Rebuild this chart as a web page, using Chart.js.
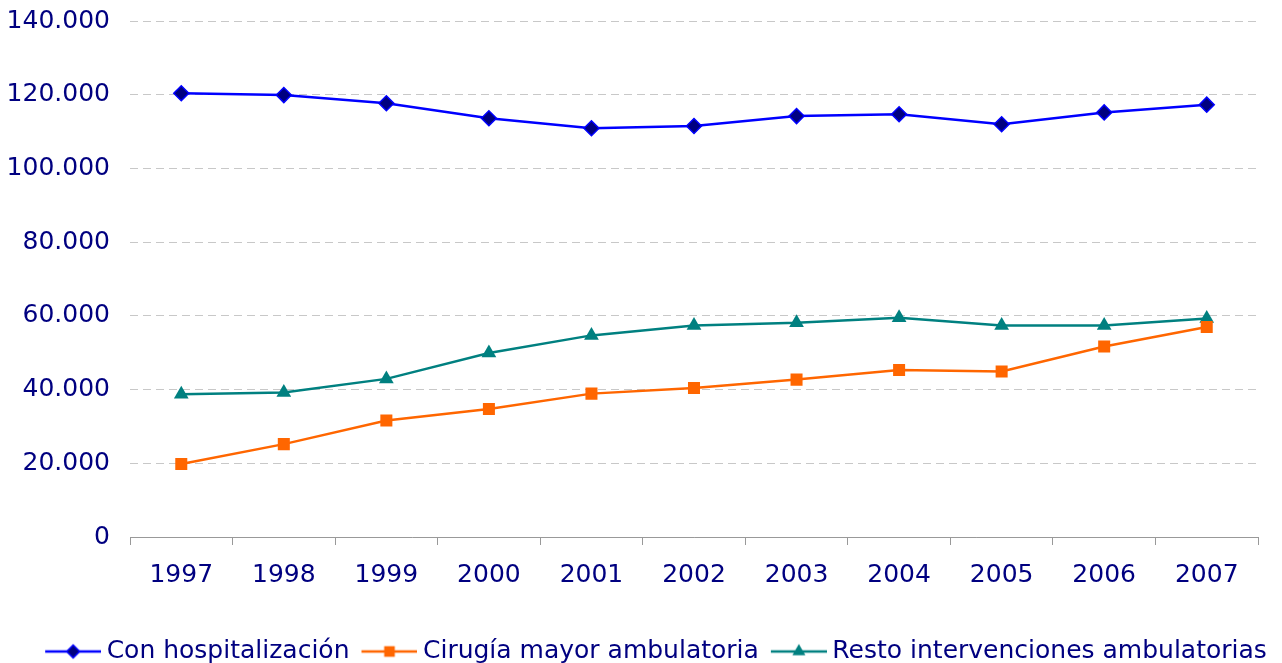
<!DOCTYPE html>
<html>
<head>
<meta charset="utf-8">
<script src="https://cdn.jsdelivr.net/npm/chart.js@4/dist/chart.umd.min.js"></script>
<style>
  html, body { margin: 0; padding: 0; background: #ffffff; }
  #wrap { width: 1282px; height: 663px; position: relative; }
</style>
</head>
<body>
<div id="wrap"><canvas id="c" width="1282" height="663"></canvas></div>
<script>
const years = ['1997','1998','1999','2000','2001','2002','2003','2004','2005','2006','2007'];
const conHospitalizacion = [120400, 119900, 117700, 113600, 110900, 111500, 114200, 114700, 112000, 115200, 117300];
const cirugiaMayorAmbulatoria = [19800, 25200, 31600, 34700, 38900, 40400, 42700, 45300, 44900, 51700, 57000];
const restoIntervenciones = [38700, 39200, 42900, 49900, 54700, 57400, 58100, 59500, 57400, 57400, 59300];
const seriesNames = ['Con hospitalización', 'Cirugía mayor ambulatoria', 'Resto intervenciones ambulatorias'];
const yTicks = [0, 20000, 40000, 60000, 80000, 100000, 120000, 140000];

const NAVY = '#000080';
const FONT = 'DejaVu Sans, Verdana, sans-serif';

function fmt(v) {
  return String(v).replace(/\B(?=(\d{3})+(?!\d))/g, '.');
}

// legend symbol: line + marker, with transparent left margin
function legendIcon(color, fill, style, r) {
  const W = 73, H = 20;
  const cv = document.createElement('canvas');
  cv.width = W; cv.height = H;
  const ctx = cv.getContext('2d');
  const x0 = 17, x1 = 73, cy = H / 2;
  ctx.strokeStyle = color;
  ctx.lineWidth = 2.5;
  ctx.beginPath(); ctx.moveTo(x0, cy); ctx.lineTo(x1, cy); ctx.stroke();
  const cx = (x0 + x1) / 2;
  ctx.fillStyle = fill;
  ctx.beginPath();
  if (style === 'rectRot') {
    ctx.moveTo(cx, cy - r); ctx.lineTo(cx + r, cy); ctx.lineTo(cx, cy + r); ctx.lineTo(cx - r, cy); ctx.closePath();
    ctx.fill(); ctx.lineWidth = 1.5; ctx.strokeStyle = color; ctx.stroke();
  } else if (style === 'rect') {
    const s = r * Math.SQRT1_2;
    ctx.rect(cx - s, cy - s, 2 * s, 2 * s); ctx.fill();
  } else {
    ctx.moveTo(cx, cy - r);
    ctx.lineTo(cx + r * Math.sin(2 * Math.PI / 3), cy + r / 2);
    ctx.lineTo(cx - r * Math.sin(2 * Math.PI / 3), cy + r / 2);
    ctx.closePath(); ctx.fill();
  }
  return cv;
}

const styles = [
  { color: '#0000FF', fill: NAVY, pointStyle: 'rectRot', radius: 7.5 },
  { color: '#FF6600', fill: '#FF6600', pointStyle: 'rect', radius: 8.5 },
  { color: '#008080', fill: '#008080', pointStyle: 'triangle', radius: 8.5 }
];
const seriesData = [conHospitalizacion, cirugiaMayorAmbulatoria, restoIntervenciones];

const datasets = seriesData.map((d, i) => ({
  label: seriesNames[i],
  data: d,
  borderColor: styles[i].color,
  backgroundColor: styles[i].fill,
  borderWidth: 2.5,
  pointStyle: styles[i].pointStyle,
  pointRadius: styles[i].radius,
  pointHoverRadius: styles[i].radius,
  pointBackgroundColor: styles[i].fill,
  pointBorderColor: styles[i].color,
  pointBorderWidth: i === 0 ? 1.5 : 0,
  tension: 0,
  fill: false
}));

const icons = styles.map(s => legendIcon(s.color, s.fill, s.pointStyle, s.radius - 1));

const legendShift = {
  id: 'legendShift',
  afterLayout(chart) {
    if (chart.legend) { chart.legend.left += 22; chart.legend.right += 22; }
  }
};

new Chart(document.getElementById('c'), {
  type: 'line',
  data: { labels: years, datasets },
  plugins: [legendShift],
  options: {
    responsive: false,
    animation: false,
    devicePixelRatio: 1,
    layout: { padding: { top: 21, right: 24, left: 0, bottom: -11 } },
    plugins: {
      tooltip: { enabled: false },
      legend: {
        position: 'bottom',
        labels: {
          usePointStyle: true,
          pointStyleWidth: 59,
          padding: 2,
          color: NAVY,
          font: { family: FONT, size: 25 },
          generateLabels: (chart) => chart.data.datasets.map((ds, i) => ({
            text: ds.label,
            pointStyle: icons[i],
            fillStyle: ds.backgroundColor,
            strokeStyle: ds.borderColor,
            lineWidth: 0,
            hidden: false,
            datasetIndex: i,
            fontColor: NAVY
          }))
        }
      }
    },
    scales: {
      x: {
        type: 'category',
        offset: true,
        grid: { offset: true, drawOnChartArea: false, drawTicks: true, tickLength: 8, color: '#999999', lineWidth: 1 },
        border: { display: true, color: '#999999', width: 1 },
        ticks: { color: NAVY, font: { family: FONT, size: 25 }, padding: 15, maxRotation: 0, autoSkip: false },
        afterFit: (scale) => { scale.height += 32; }
      },
      y: {
        min: 0, max: 140000,
        afterBuildTicks: (scale) => { scale.ticks = yTicks.map(v => ({ value: v })); },
        afterFit: (scale) => { scale.width = 130; scale.paddingTop = 0; scale.paddingBottom = 0; },
        grid: { color: '#c8c8c8', lineWidth: 1, drawTicks: false },
        border: { display: false, dash: [8, 5] },
        ticks: { color: NAVY, font: { family: FONT, size: 25 }, padding: 20, callback: (v) => fmt(v) }
      }
    }
  }
});
</script>
</body>
</html>
